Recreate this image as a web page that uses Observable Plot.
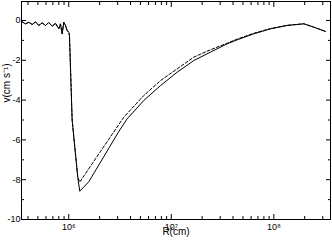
<!DOCTYPE html>
<html><head><meta charset="utf-8">
<script src="https://cdn.jsdelivr.net/npm/d3@7"></script>
<script src="https://cdn.jsdelivr.net/npm/@observablehq/plot@0.6"></script>
<style>
body{margin:0;background:#fff}
svg{font-family:"Liberation Sans",Arial,sans-serif}
</style>
</head><body><div id="chart"></div>
<script>
// Oscillating inner region (shared by both curves)
const oscR = [3.46e5,3.78e5,4.07e5,4.40e5,4.73e5,5.10e5,5.50e5,5.93e5,6.38e5,6.89e5,7.42e5,7.99e5,8.30e5,8.62e5,8.94e5,9.29e5,9.64e5,1.0e6,1.016e6,1.079e6,1.224e6];
const oscV = [-0.04,-0.17,-0.09,-0.20,-0.07,-0.25,-0.12,-0.25,-0.10,-0.29,-0.14,-0.42,-0.17,-0.67,-0.09,-0.25,-0.50,-0.59,-0.75,-5.0,-7.87];
// Solid curve (outer part)
const solidR = [1.28e6,1.57e6,3.05e6,3.71e6,5.39e6,7.85e6,1.14e7,1.66e7,2.41e7,3.51e7,4.40e7,6.38e7,9.29e7,1.35e8,1.96e8,2.44e8,3.19e8];
const solidV = [-8.58,-8.10,-5.61,-4.94,-4.02,-3.27,-2.60,-2.01,-1.59,-1.17,-0.97,-0.67,-0.42,-0.25,-0.17,-0.33,-0.55];
// Dashed curve (outer part)
const dashedR = [1.28e6,2.04e6,3.44e6,5.39e6,7.85e6,1.14e7,1.66e7,2.41e7,3.51e7,4.40e7,6.38e7,9.29e7,1.35e8,1.96e8,2.44e8,3.19e8];
const dashedV = [-8.12,-6.58,-4.86,-3.77,-3.02,-2.43,-1.84,-1.47,-1.14,-0.93,-0.64,-0.40,-0.24,-0.16,-0.33,-0.55];

const xMajor = [1e6,1e7,1e8];
const xMajorLabels = ["10⁶","10⁷","10⁸"];
const xMinor = [4e5,5e5,6e5,7e5,8e5,9e5,2e6,3e6,4e6,5e6,6e6,7e6,8e6,9e6,2e7,3e7,4e7,5e7,6e7,7e7,8e7,9e7,2e8,3e8];
const yMajor = [0,-2,-4,-6,-8,-10];
const yMinor = [-1,-3,-5,-7,-9];

const solid = [...oscR.map((r,i)=>({r, v:oscV[i]})), ...solidR.map((r,i)=>({r, v:solidV[i]}))];
const dashed = [...oscR.map((r,i)=>({r, v:oscV[i]})), ...dashedR.map((r,i)=>({r, v:dashedV[i]}))];

const fmtX = d => xMajorLabels[xMajor.indexOf(d)];

const chart = Plot.plot({
  width: 332, height: 240,
  marginLeft: 21, marginRight: 2, marginTop: 1, marginBottom: 21,
  style: {fontSize: "9px", fontFamily: "Liberation Sans, Arial, sans-serif", background: "#fff"},
  x: {type: "log", domain: [3.46e5, 3.57e8]},
  y: {domain: [-10, 0.955]},
  marks: [
    Plot.axisX(xMajor, {anchor: "bottom", tickSize: -5, tickFormat: () => "", label: null}),
    Plot.axisX(xMinor, {anchor: "bottom", tickSize: -3, tickFormat: () => "", label: null}),
    Plot.axisX(xMajor, {anchor: "top", tickSize: -5, tickFormat: () => "", label: null}),
    Plot.axisX(xMinor, {anchor: "top", tickSize: -3, tickFormat: () => "", label: null}),
    Plot.axisX(xMajor, {anchor: "bottom", tickSize: 0, tickPadding: 4, tickFormat: fmtX, label: null}),
    Plot.axisY(yMajor, {anchor: "left", tickSize: -5, tickFormat: () => "", label: null}),
    Plot.axisY(yMinor, {anchor: "left", tickSize: -3, tickFormat: () => "", label: null}),
    Plot.axisY(yMajor, {anchor: "right", tickSize: -5, tickFormat: () => "", label: null}),
    Plot.axisY(yMinor, {anchor: "right", tickSize: -3, tickFormat: () => "", label: null}),
    Plot.axisY(yMajor, {anchor: "left", tickSize: 0, tickPadding: 1, tickFormat: d => String(d), label: null}),
    Plot.line(dashed, {x: "r", y: "v", stroke: "black", strokeWidth: 1, strokeDasharray: "3,2"}),
    Plot.line(solid, {x: "r", y: "v", stroke: "black", strokeWidth: 1}),
    Plot.frame({stroke: "black", strokeWidth: 1}),
    Plot.text(["R(cm)"], {frameAnchor: "bottom", dy: 15, fontSize: 10}),
    Plot.text(["v(cm s⁻¹)"], {frameAnchor: "left", rotate: -90, dx: -15, dy: -8, fontSize: 10})
  ]
});
document.getElementById("chart").appendChild(chart);
</script>
</body></html>
